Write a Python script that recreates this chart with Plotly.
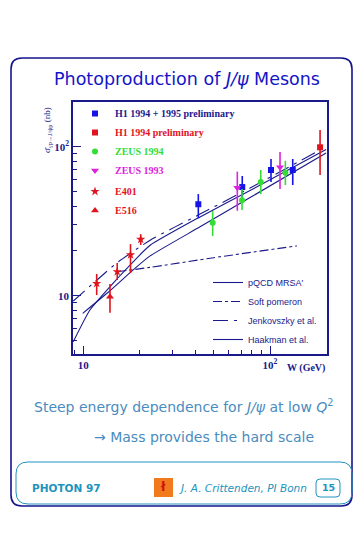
import plotly.graph_objects as go

FIG_W, FIG_H = 363, 535

# ---------------- data ----------------
# H1 1994 + 1995 preliminary
h1_9495_w = [41.3, 71.0, 101.2, 132.3]
h1_9495_s = [41.1, 53.6, 69.8, 69.8]
h1_9495_hi = [48.1, 63.6, 82.7, 82.7]
h1_9495_lo = [33.2, 45.9, 57.9, 55.3]

# H1 1994 preliminary
h1_94_w = [185.3]
h1_94_s = [99.1]
h1_94_hi = [129.7]
h1_94_lo = [64.6]

# ZEUS 1994
zeus94_w = [49.3, 70.8, 89.2, 120.8]
zeus94_s = [30.9, 43.7, 57.9, 66.9]
zeus94_hi = [37.0, 52.0, 69.8, 80.5]
zeus94_lo = [25.2, 37.6, 48.1, 55.3]

# ZEUS 1993
zeus93_w = [66.8, 113.1]
zeus93_s = [53.1, 72.7]
zeus93_hi = [68.0, 92.1]
zeus93_lo = [37.2, 52.0]

# E401
e401_w = [11.8, 15.2, 17.9, 20.3]
e401_s = [12.1, 14.5, 18.8, 23.9]
e401_hi = [14.0, 16.6, 22.2, 25.9]
e401_lo = [10.1, 12.75, 14.2, 21.9]

# E516
e516_w = [13.9]
e516_s = [9.85]
e516_hi = [11.98]
e516_lo = [7.69]

# model curves
pqcd_w = [8.84, 10.86, 15.1, 18.5, 22.8, 42.2, 78.2, 199.5]
pqcd_s = [4.91, 8.02, 12.9, 16.9, 21.8, 33.8, 50.8, 95.7]

soft_w = [15.2, 22.8, 50.0, 139.0]
soft_s = [14.5, 15.5, 18.0, 21.6]

jenk_w = [8.84, 11.55, 15.1, 22.8, 42.2, 78.2, 199.5]
jenk_s = [9.21, 12.41, 16.58, 23.6, 35.3, 52.8, 100.0]

haak_w = [9.93, 13.9, 18.5, 22.8, 42.2, 78.2, 199.5]
haak_s = [7.62, 10.8, 14.9, 18.5, 29.0, 45.6, 90.7]

x_tickvals = [10, 100]
x_ticktext = ["10", "10<sup>2</sup>"]
x_minor = [9, 20, 30, 40, 50, 60, 70, 80, 90, 200]
y_tickvals = [10, 100]
y_ticktext = ["10", "10<sup>2</sup>"]
y_minor = [5, 6, 7, 8, 9, 20, 30, 40, 50, 60, 70, 80, 90, 200]

# ---------------- styling ----------------
NAVY = "#1a1a8c"
BLUE = "#1414e6"
RED = "#e0141e"
GREEN = "#33dd33"
MAGENTA = "#dd22dd"
TEXT_BLUE = "#4a8cc0"
TEAL = "#2293bd"
SERIF = "Liberation Serif"
SANS = "DejaVu Sans"


def px(x):
    return x / FIG_W


def py(y):
    return 1 - y / FIG_H


def errs(s, hi, lo):
    return dict(type="data", symmetric=False,
                array=[h - v for h, v in zip(hi, s)],
                arrayminus=[v - l for v, l in zip(s, lo)])


fig = go.Figure()


def add_points(name, w, s, hi, lo, color, symbol, size, group):
    e = errs(s, hi, lo)
    e.update(color=color, thickness=1.6, width=0)
    fig.add_trace(go.Scatter(
        x=w, y=s, mode="markers", name=name,
        marker=dict(symbol=symbol, size=size, color=color,
                    line=dict(width=0)),
        error_y=e, legend="legend", legendgroup=group))


def span(txt, color):
    return f"<span style='color:{color}'>{txt}</span>"


# model curves first (drawn below points)
curves = [
    ("pQCD MRSA'", pqcd_w, pqcd_s, "solid"),
    ("Soft pomeron", soft_w, soft_s, "dashdot"),
    ("Jenkovszky et al.", jenk_w, jenk_s, "longdashdot"),
    ("Haakman et al.", haak_w, haak_s, "solid"),
]
for name, w, s, dash in curves:
    fig.add_trace(go.Scatter(
        x=w, y=s, mode="lines", name=name,
        line=dict(color=NAVY, width=1.1, dash=dash, shape="spline",
                  smoothing=0.5),
        legend="legend2"))

add_points(span("H1 1994 + 1995 preliminary", NAVY), h1_9495_w, h1_9495_s,
           h1_9495_hi, h1_9495_lo, BLUE, "square", 6, "g1")
add_points(span("H1 1994 preliminary", RED), h1_94_w, h1_94_s,
           h1_94_hi, h1_94_lo, RED, "square", 6, "g1")
add_points(span("ZEUS 1994", GREEN), zeus94_w, zeus94_s,
           zeus94_hi, zeus94_lo, GREEN, "circle", 6, "g1")
add_points(span("ZEUS 1993", MAGENTA), zeus93_w, zeus93_s,
           zeus93_hi, zeus93_lo, MAGENTA, "triangle-down", 7, "g1")
add_points(span("E401", RED), e401_w, e401_s,
           e401_hi, e401_lo, RED, "star", 7, "g2")
add_points(span("E516", RED), e516_w, e516_s,
           e516_hi, e516_lo, RED, "triangle-up", 7, "g2")

axis_common = dict(
    type="log", showgrid=False, zeroline=False,
    showline=True, linecolor=NAVY, linewidth=1.5, mirror=True,
    ticks="inside", ticklen=8, tickwidth=1.2, tickcolor=NAVY,
    tickfont=dict(family=SERIF, size=11, color=NAVY, weight="bold"),
)

fig.update_layout(
    width=FIG_W, height=FIG_H,
    margin=dict(l=0, r=0, t=0, b=0),
    paper_bgcolor="white", plot_bgcolor="white",
    showlegend=True,
    xaxis=dict(
        **axis_common,
        domain=[px(73), px(327)],
        range=[0.945, 2.305],
        tickvals=x_tickvals, ticktext=x_ticktext,
        minor=dict(tickvals=x_minor, ticks="inside", ticklen=4,
                   tickwidth=1, tickcolor=NAVY, showgrid=False),
    ),
    yaxis=dict(
        **axis_common,
        domain=[py(354), py(102)],
        range=[0.609, 2.300],
        tickvals=y_tickvals, ticktext=y_ticktext,
        minor=dict(tickvals=y_minor, ticks="inside", ticklen=4,
                   tickwidth=1, tickcolor=NAVY, showgrid=False),
    ),
    legend=dict(
        x=px(75), y=py(99), xanchor="left", yanchor="top",
        bgcolor="rgba(0,0,0,0)", borderwidth=0,
        font=dict(family=SERIF, size=10, weight="bold"),
        traceorder="grouped", tracegroupgap=2, itemwidth=30,
    ),
    legend2=dict(
        x=px(208), y=py(268), xanchor="left", yanchor="top",
        bgcolor="rgba(0,0,0,0)", borderwidth=0,
        font=dict(family="Liberation Sans", size=9, color=NAVY),
        itemwidth=30,
    ),
)


def rrect(x0, y0, x1, y1, r):
    rx, ry = r / FIG_W, r / FIG_H
    X0, X1, Y0, Y1 = px(x0), px(x1), py(y0), py(y1)
    return (f"M {X0+rx},{Y0} L {X1-rx},{Y0} Q {X1},{Y0} {X1},{Y0-ry} "
            f"L {X1},{Y1+ry} Q {X1},{Y1} {X1-rx},{Y1} "
            f"L {X0+rx},{Y1} Q {X0},{Y1} {X0},{Y1+ry} "
            f"L {X0},{Y0-ry} Q {X0},{Y0} {X0+rx},{Y0} Z")


shapes = [
    dict(type="path", xref="paper", yref="paper",
         path=rrect(11, 58, 352, 506, 11),
         line=dict(color="#14148c", width=1.6)),
    dict(type="path", xref="paper", yref="paper",
         path=rrect(16, 462, 352, 504, 12),
         line=dict(color=TEAL, width=1)),
    dict(type="path", xref="paper", yref="paper",
         path=rrect(316, 479, 340, 497, 4),
         line=dict(color=TEAL, width=1)),
    dict(type="rect", xref="paper", yref="paper",
         x0=px(154), x1=px(173), y0=py(497), y1=py(478),
         fillcolor="#f07a1c", line=dict(width=0)),
]
fig.update_layout(shapes=shapes)

ann = [
    dict(text="Photoproduction of <i>J/ψ</i> Mesons",
         x=px(187), y=py(79), font=dict(family=SANS, size=17.5, color="#1414c8")),
    dict(text="σ̄<sub>γp→J/ψp</sub> (nb)", textangle=-90,
         x=px(47), y=py(130), font=dict(family=SERIF, size=9, color=NAVY)),
    dict(text="W (GeV)", x=px(327), y=py(368), xanchor="right",
         font=dict(family=SERIF, size=10, color=NAVY, weight="bold")),
    dict(text="Steep energy dependence for <i>J/ψ</i> at low <i>Q</i><sup>2</sup>",
         x=px(184), y=py(406), font=dict(family=SANS, size=14, color=TEXT_BLUE)),
    dict(text="→ Mass provides the hard scale",
         x=px(204), y=py(437), font=dict(family=SANS, size=14, color=TEXT_BLUE)),
    dict(text="<b>PHOTON 97</b>", x=px(30), y=py(488), xanchor="left",
         font=dict(family=SANS, size=10.5, color=TEAL)),
    dict(text="<i>J. A. Crittenden, PI Bonn</i>", x=px(177), y=py(488), xanchor="left",
         font=dict(family=SANS, size=10.5, color=TEAL)),
    dict(text="<b>15</b>", x=px(328), y=py(488),
         font=dict(family=SANS, size=9.5, color=TEAL)),
    dict(text="<b>ł</b>", x=px(163), y=py(487),
         font=dict(family=SANS, size=12, color="#d01010")),
]
for a in ann:
    a.update(xref="paper", yref="paper", showarrow=False)
    a.setdefault("xanchor", "center")
    a.setdefault("yanchor", "middle")
fig.update_layout(annotations=ann)

fig.write_html("out.html",
               config={"displayModeBar": False},
               post_script="document.body.style.margin='0';document.body.style.padding='0';")
